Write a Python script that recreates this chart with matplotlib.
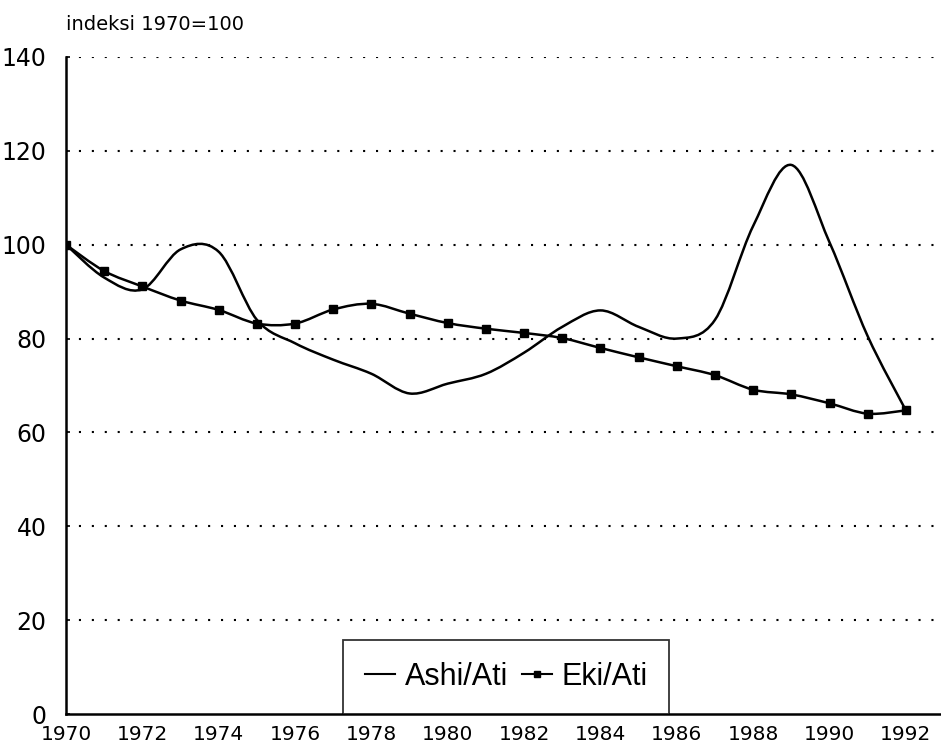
import matplotlib
matplotlib.use('Agg')
from matplotlib import pyplot as plt
from matplotlib.path import Path
from matplotlib.patches import PathPatch
from matplotlib.lines import Line2D
import numpy as np

years = list(range(1970, 1993))
ashi_ati = [100, 93, 90.5, 99, 98.5, 84, 79, 75.5, 72.5, 68.3, 70.4, 72.5, 77, 82.5,
            86, 82.5, 80, 84, 104, 117, 100.5, 80.5, 64.7]
eki_ati = [100, 94.4, 91.1, 88.1, 86.1, 83.2, 83.2, 86.2, 87.4, 85.3, 83.3, 82.1,
           81.2, 80.1, 78, 76, 74.1, 72.2, 69.1, 68.1, 66.2, 64, 64.7]

y_ticks = [0, 20, 40, 60, 80, 100, 120, 140]
x_ticks = list(range(1970, 1993, 2))
unit_label = 'indeksi 1970=100'
series_names = ['Ashi/Ati', 'Eki/Ati']

plt.rcParams['font.family'] = ['DejaVu Sans']


def smooth_path(xs, ys):
    # Catmull-Rom style bezier through the data points
    pts = np.column_stack([xs, ys]).astype(float)
    ext = np.vstack([pts[0], pts, pts[-1]])
    verts = [pts[0]]
    codes = [Path.MOVETO]
    for i in range(1, len(ext) - 2):
        p0, p1, p2, p3 = ext[i - 1], ext[i], ext[i + 1], ext[i + 2]
        c1 = p1 + (p2 - p0) / 6.0
        c2 = p2 - (p3 - p1) / 6.0
        verts += [c1, c2, p2]
        codes += [Path.CURVE4] * 3
    return Path(verts, codes)


fig = plt.figure(figsize=(9.41, 7.53), dpi=100)
ax = fig.add_axes([66 / 941, 1 - 714 / 753, 1 - 66 / 941, (714 - 57) / 753])

for vals in (ashi_ati, eki_ati):
    ax.add_patch(PathPatch(smooth_path(years, vals), facecolor='none',
                           edgecolor='black', lw=1.8, zorder=3, capstyle='round'))
ax.plot(years, eki_ati, linestyle='none', marker='s', markersize=6,
        color='black', zorder=4)

ax.set_xlim(1970, 1992.92)
ax.set_ylim(0, 140)
ax.set_yticks(y_ticks)
ax.set_xticks(x_ticks)
ax.set_xticklabels([str(x) for x in x_ticks], fontsize=14.5)
ax.set_yticklabels([str(y) for y in y_ticks], fontsize=17)
ax.tick_params(axis='x', length=0, pad=8)
ax.tick_params(axis='y', length=3, direction='in', pad=14, width=1.2)

for y in y_ticks[1:]:
    ax.axhline(y, color='black', lw=1.5, linestyle=(0, (1, 5.2)), zorder=1)

ax.spines['top'].set_visible(False)
ax.spines['right'].set_visible(False)
ax.spines['left'].set_linewidth(1.8)
ax.spines['bottom'].set_linewidth(1.8)

fig.text(66 / 941, 1 - 30 / 753, unit_label, fontsize=14, va='baseline', ha='left')

handles = [Line2D([], [], color='black', lw=1.5),
           Line2D([], [], color='black', lw=1.5, marker='s', markersize=4.5)]
leg = ax.legend(handles, series_names, loc='lower center', bbox_to_anchor=(0.503, 0.0),
                ncol=2, frameon=True, fancybox=False, handlelength=1.0,
                handletextpad=0.3, columnspacing=0.45, borderpad=0.72, borderaxespad=0,
                prop={'family': 'Liberation Sans', 'size': 22})
leg.get_frame().set_edgecolor('black')
leg.get_frame().set_linewidth(1.3)

fig.savefig('out.png', dpi=100)
